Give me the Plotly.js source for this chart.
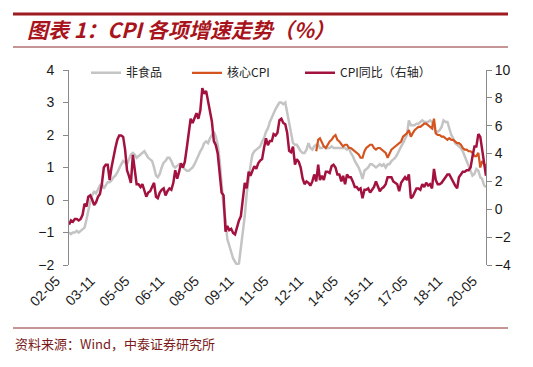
<!DOCTYPE html>
<html><head><meta charset="utf-8">
<script src="https://cdn.plot.ly/plotly-3.0.1.min.js"></script>
<style>body{margin:0;background:#fff}#chart{width:533px;height:367px}</style>
</head><body><div id="chart"></div>
<script>
// monthly series, 2002-05 .. 2020-05
const firstMonth = '2002-05';

// 非食品 (left axis)
const nonFood = [
 -1.0,-1.05,-1.0,-1.0,-0.95,-1.0,-0.95,-0.9,
 -0.85,-0.6,-0.3,-0.05,0.15,0.25,0.2,0.35,0.45,0.5,0.35,0.45,
 0.55,0.55,0.6,0.7,0.75,0.85,1.0,1.1,1.2,1.15,1.1,1.25,
 1.4,1.45,1.4,1.3,1.35,1.4,1.45,1.5,1.4,1.3,1.25,1.2,
 1.0,0.75,0.7,0.8,1.0,1.15,1.2,1.3,1.3,1.2,1.05,1.0,
 1.05,1.1,1.05,1.0,0.95,0.9,0.9,0.95,1.0,1.1,1.25,1.35,
 1.5,1.6,1.75,1.8,1.75,1.9,2.0,2.1,1.95,1.7,1.2,0.4,
 -0.2,-0.6,-1.2,-1.4,-1.6,-1.8,-1.9,-2.0,-1.95,-1.5,-1.0,-0.5,
 0.2,0.7,1.05,1.4,1.5,1.55,1.6,1.65,1.8,1.9,2.1,2.2,
 2.4,2.55,2.7,2.8,2.9,3.0,3.0,2.95,3.0,2.7,2.3,2.0,
 1.75,1.7,1.7,1.6,1.5,1.45,1.45,1.55,1.75,1.6,1.55,1.65,
 1.7,1.7,1.6,1.6,1.65,1.6,1.6,1.6,1.65,1.6,1.6,1.6,
 1.6,1.6,1.6,1.6,1.55,1.6,1.45,1.35,1.2,1.1,1.0,0.85,
 0.65,0.9,0.95,1.0,1.1,1.1,1.05,1.0,1.05,1.1,1.05,1.1,
 1.0,1.1,1.1,1.2,1.25,1.3,1.4,1.55,1.65,1.75,1.9,2.0,
 2.45,2.3,2.3,2.3,2.35,2.35,2.4,2.45,2.4,2.4,2.4,2.45,
 2.4,2.2,2.1,2.1,2.15,2.25,2.45,2.4,2.4,2.2,2.0,1.9,
 1.75,1.7,1.65,1.6,1.5,1.35,1.25,1.1,0.9,0.75,0.8,0.95,
 0.9,0.7,0.65,0.45,0.4
];

// 核心CPI (left axis), 2013-01 .. 2020-05
const coreStart = '2013-01';
const coreCPI = [
 1.5,1.85,1.9,1.75,1.65,1.6,1.7,1.8,1.85,1.95,2.0,1.85,
 1.8,1.7,1.65,1.7,1.7,1.6,1.6,1.55,1.5,1.45,1.4,1.3,
 1.3,1.5,1.6,1.65,1.7,1.7,1.6,1.55,1.6,1.6,1.55,1.5,
 1.45,1.3,1.45,1.55,1.6,1.65,1.7,1.75,1.8,1.95,2.0,2.05,
 2.15,1.95,2.05,2.15,2.2,2.25,2.25,2.3,2.35,2.35,2.3,2.25,
 2.2,2.5,2.05,2.0,2.0,1.95,1.95,1.9,1.85,1.9,1.85,1.85,
 1.8,1.75,1.75,1.7,1.6,1.55,1.55,1.5,1.5,1.45,1.35,1.35,
 1.45,1.0,1.2,1.1,1.05
];

// CPI同比 (right axis)
const cpiYoY = [
 -1.1,-0.8,-0.9,-0.7,-0.7,-0.8,-0.7,-0.4,
 0.4,0.2,0.9,1.0,0.7,0.3,0.5,0.9,1.1,1.8,3.0,3.2,
 3.2,2.1,3.0,3.8,4.4,5.0,5.3,5.3,5.2,4.3,2.8,2.4,
 1.9,3.9,2.7,1.8,1.8,1.6,1.8,1.3,0.9,1.2,1.3,1.6,
 1.9,0.9,0.8,1.2,1.4,1.5,1.0,1.3,1.5,1.4,1.9,2.8,
 2.2,2.7,3.3,3.0,3.4,4.4,5.6,6.5,6.2,6.5,6.9,6.5,
 7.1,8.7,8.3,8.5,7.7,7.1,6.3,4.9,4.6,4.0,2.4,1.2,
 1.0,-1.6,-1.2,-1.5,-1.4,-1.7,-1.8,-1.2,-0.8,-0.5,0.6,1.9,
 1.5,2.7,2.4,2.8,3.1,2.9,3.3,3.5,3.6,4.4,5.1,4.6,
 4.9,4.9,5.4,5.3,5.5,6.4,6.5,6.2,6.1,5.5,4.2,4.1,
 4.5,3.2,3.6,3.4,3.0,2.2,1.8,2.0,1.9,1.7,2.0,2.5,
 2.0,3.2,2.1,2.4,2.1,2.7,2.7,2.6,3.1,3.2,3.0,2.5,
 2.5,2.0,2.4,1.8,2.5,2.3,2.3,2.0,1.6,1.6,1.4,1.5,
 0.8,1.4,1.4,1.5,1.2,1.4,1.6,2.0,1.6,1.3,1.5,1.6,
 1.8,2.3,2.3,2.3,2.0,1.9,1.8,1.3,1.9,2.1,2.3,2.1,
 2.5,0.8,0.9,1.2,1.5,1.5,1.4,1.8,1.6,1.9,1.7,1.8,
 1.5,2.9,2.1,1.8,1.8,1.9,2.1,2.3,2.5,2.5,2.2,1.9,
 1.7,1.5,2.3,2.5,2.7,2.7,2.8,2.8,3.0,3.8,4.5,4.5,
 5.4,5.2,4.3,3.3,2.4
];

const tickLabels = ['02-05','03-11','05-05','06-11','08-05','09-11','11-05','12-11','14-05','15-11','17-05','18-11','20-05'];
const seriesNames = ['非食品','核心CPI','CPI同比（右轴）'];

function monthList(start, n) {
  let [y, m] = start.split('-').map(Number);
  const out = [];
  for (let i = 0; i < n; i++) {
    out.push(y + '-' + String(m).padStart(2, '0') + '-01');
    m++; if (m > 12) { m = 1; y++; }
  }
  return out;
}
const months = monthList(firstMonth, nonFood.length);
const coreMonths = monthList(coreStart, coreCPI.length);
const tickVals = tickLabels.map(t => '20' + t.slice(0, 2) + '-' + t.slice(3) + '-01');

const traces = [
  {x: months, y: nonFood, name: seriesNames[0], type: 'scatter', mode: 'lines',
   line: {color: '#c4c4c4', width: 2.5}, xaxis: 'x', yaxis: 'y', legend: 'legend'},
  {x: coreMonths, y: coreCPI, name: seriesNames[1], type: 'scatter', mode: 'lines',
   line: {color: '#d4531e', width: 2.2}, xaxis: 'x', yaxis: 'y', legend: 'legend2'},
  {x: months, y: cpiYoY, name: seriesNames[2], type: 'scatter', mode: 'lines',
   line: {color: '#a3123f', width: 2.5}, xaxis: 'x', yaxis: 'y2', legend: 'legend3'}
];

const axisGray = '#8a8a8a';
const dark = '#9e1b20';
const legendBase = {
  orientation: 'h', xanchor: 'left', y: 1.06, yanchor: 'top',
  bgcolor: 'rgba(0,0,0,0)', font: {family: 'Noto Sans CJK SC', size: 12, color: '#222'}
};
const layout = {
  width: 533, height: 367,
  margin: {l: 69, r: 47, t: 70, b: 102},
  paper_bgcolor: '#ffffff', plot_bgcolor: '#ffffff',
  font: {family: 'Liberation Sans, Arial, sans-serif', size: 14, color: '#1a1a1a'},
  showlegend: true,
  title: {
    text: '图表 1：CPI 各项增速走势（%）',
    x: 27 / 533, xanchor: 'left', xref: 'container',
    y: 1 - 31 / 367, yanchor: 'middle', yref: 'container',
    font: {family: 'Noto Sans CJK SC', size: 21, color: '#a8141c', weight: 'bold', style: 'italic'}
  },
  legend: Object.assign({}, legendBase, {x: (86 - 69) / 417}),
  legend2: Object.assign({}, legendBase, {x: (187 - 69) / 417}),
  legend3: Object.assign({}, legendBase, {x: (300 - 69) / 417}),
  xaxis: {
    type: 'date', range: [months[0], months[months.length - 1]],
    tickmode: 'array', tickvals: tickVals, ticktext: tickLabels, tickangle: -45,
    showline: false, showgrid: false, zeroline: false, ticks: '',
    ticklabelshift: -13, ticklabelstandoff: 4,
    tickfont: {size: 14, color: '#1a1a1a'}
  },
  xaxis2: {
    type: 'date', overlaying: 'x', matches: 'x', anchor: 'free', position: (265 - 200) / 195,
    range: [months[0], months[months.length - 1]],
    tickmode: 'array', tickvals: tickVals, showticklabels: false,
    showline: true, linecolor: axisGray, linewidth: 1,
    ticks: 'outside', ticklen: 4, tickcolor: axisGray, showgrid: false, zeroline: false
  },
  yaxis: {
    range: [-2, 4], tick0: 0, dtick: 1, showline: true, linecolor: axisGray,
    ticks: 'outside', ticklen: 5, tickcolor: axisGray, showgrid: false, zeroline: false,
    ticklabelstandoff: 6
  },
  yaxis2: {
    overlaying: 'y', side: 'right', range: [-4, 10], tick0: 0, dtick: 2,
    showline: true, linecolor: axisGray, ticks: 'outside', ticklen: 5, tickcolor: axisGray,
    showgrid: false, zeroline: false
  },
  shapes: [
    {type: 'line', xref: 'paper', yref: 'paper', x0: (13 - 69) / 417, x1: (508 - 69) / 417,
     y0: (265 - 14) / 195, y1: (265 - 14) / 195, line: {color: dark, width: 3}},
    {type: 'line', xref: 'paper', yref: 'paper', x0: (13 - 69) / 417, x1: (508 - 69) / 417,
     y0: (265 - 47) / 195, y1: (265 - 47) / 195, line: {color: '#8c2a2a', width: 1}},
    {type: 'line', xref: 'paper', yref: 'paper', x0: (13 - 69) / 417, x1: (508 - 69) / 417,
     y0: (265 - 328) / 195, y1: (265 - 328) / 195, line: {color: '#8c2a2a', width: 1}}
  ],
  annotations: [
    {text: '资料来源：Wind，中泰证券研究所', xref: 'paper', yref: 'paper',
     x: (13 - 69) / 417, xanchor: 'left', y: (265 - 343) / 195, yanchor: 'middle',
     showarrow: false, font: {family: 'Noto Sans CJK SC', size: 13, color: '#7a1a1a'}}
  ]
};

Plotly.newPlot('chart', traces, layout, {displayModeBar: false, responsive: false});
</script>
</body></html>
